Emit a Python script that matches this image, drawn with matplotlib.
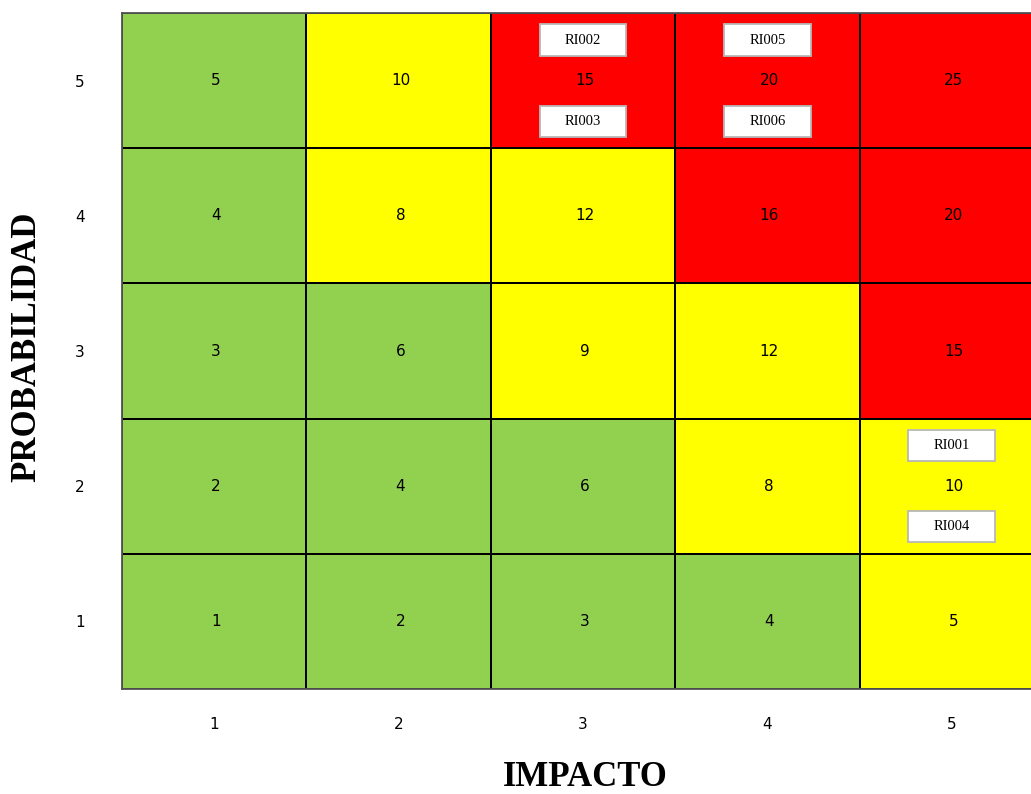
import numpy as np
import matplotlib
matplotlib.use('Agg')
import matplotlib.pyplot as plt
from matplotlib.colors import ListedColormap
from matplotlib.patches import Rectangle

# Risk matrix: impact (columns) x probability (rows)
impact = [1, 2, 3, 4, 5]
probability = [1, 2, 3, 4, 5]

# Risk level per cell, rows = probability 1..5, cols = impact 1..5
# 0 = low (green), 1 = medium (yellow), 2 = high (red)
levels = [
    [0, 0, 0, 0, 1],
    [0, 0, 0, 1, 1],
    [0, 0, 1, 1, 2],
    [0, 1, 1, 2, 2],
    [0, 1, 2, 2, 2],
]

# Identified risks: (id, impact, probability)
risk_ids = ['RI001', 'RI002', 'RI003', 'RI004', 'RI005', 'RI006']
risk_impact = [5, 3, 3, 5, 4, 4]
risk_prob = [2, 5, 5, 2, 5, 5]

_GREEN, _YELLOW, _RED = '#92d050', '#ffff00', '#ff0000'

fig = plt.figure(figsize=(10.31, 7.94), dpi=100)
ax = fig.add_axes([122 / 1031, 105 / 794, 922 / 1031, 676 / 794])

cmap = ListedColormap([_GREEN, _YELLOW, _RED])
edges_x = np.arange(len(impact) + 1) + 0.5
edges_y = np.arange(len(probability) + 1) + 0.5
ax.pcolormesh(edges_x, edges_y, np.array(levels), cmap=cmap, vmin=-0.5, vmax=2.5,
              edgecolors='black', linewidth=1.3)

# score in the middle of every cell
for p in probability:
    for i in impact:
        ax.text(i + 0.01, p, str(i * p), ha='center', va='center',
                fontsize=11, family='DejaVu Sans', color='black')

# risk tags: first one in a cell sits above the score, second below
slot_dy = [0.3, -0.3]
tag_w, tag_h = 0.47, 0.23
seen = {}
for rid, i, p in zip(risk_ids, risk_impact, risk_prob):
    k = seen.get((i, p), 0)
    seen[(i, p)] = k + 1
    cx, cy = i, p + slot_dy[k]
    ax.add_patch(Rectangle((cx - tag_w / 2, cy - tag_h / 2), tag_w, tag_h,
                           facecolor='white', edgecolor='#b8b8b8', linewidth=1.3,
                           zorder=3))
    ax.text(cx, cy, rid, ha='center', va='center', zorder=4,
            fontsize=10.5, family='Liberation Serif', color='black')

ax.set_xlim(0.5, 5.5)
ax.set_ylim(0.5, 5.5)
ax.set_xticks(impact)
ax.set_yticks(probability)
ax.tick_params(length=0, labelsize=11)
ax.tick_params(axis='x', pad=20)
ax.tick_params(axis='y', pad=27)
for sp in ax.spines.values():
    sp.set_color('#555555')
    sp.set_linewidth(1.3)

fig.text(585 / 1031, 1 - 778 / 794, 'IMPACTO', ha='center', va='center',
         fontsize=25, fontweight='bold', family='Liberation Serif')
fig.text(27 / 1031, 1 - 347 / 794, 'PROBABILIDAD', ha='center', va='center',
         rotation=90, fontsize=25, fontweight='bold', family='Liberation Serif')

fig.savefig('out.png', dpi=100)
